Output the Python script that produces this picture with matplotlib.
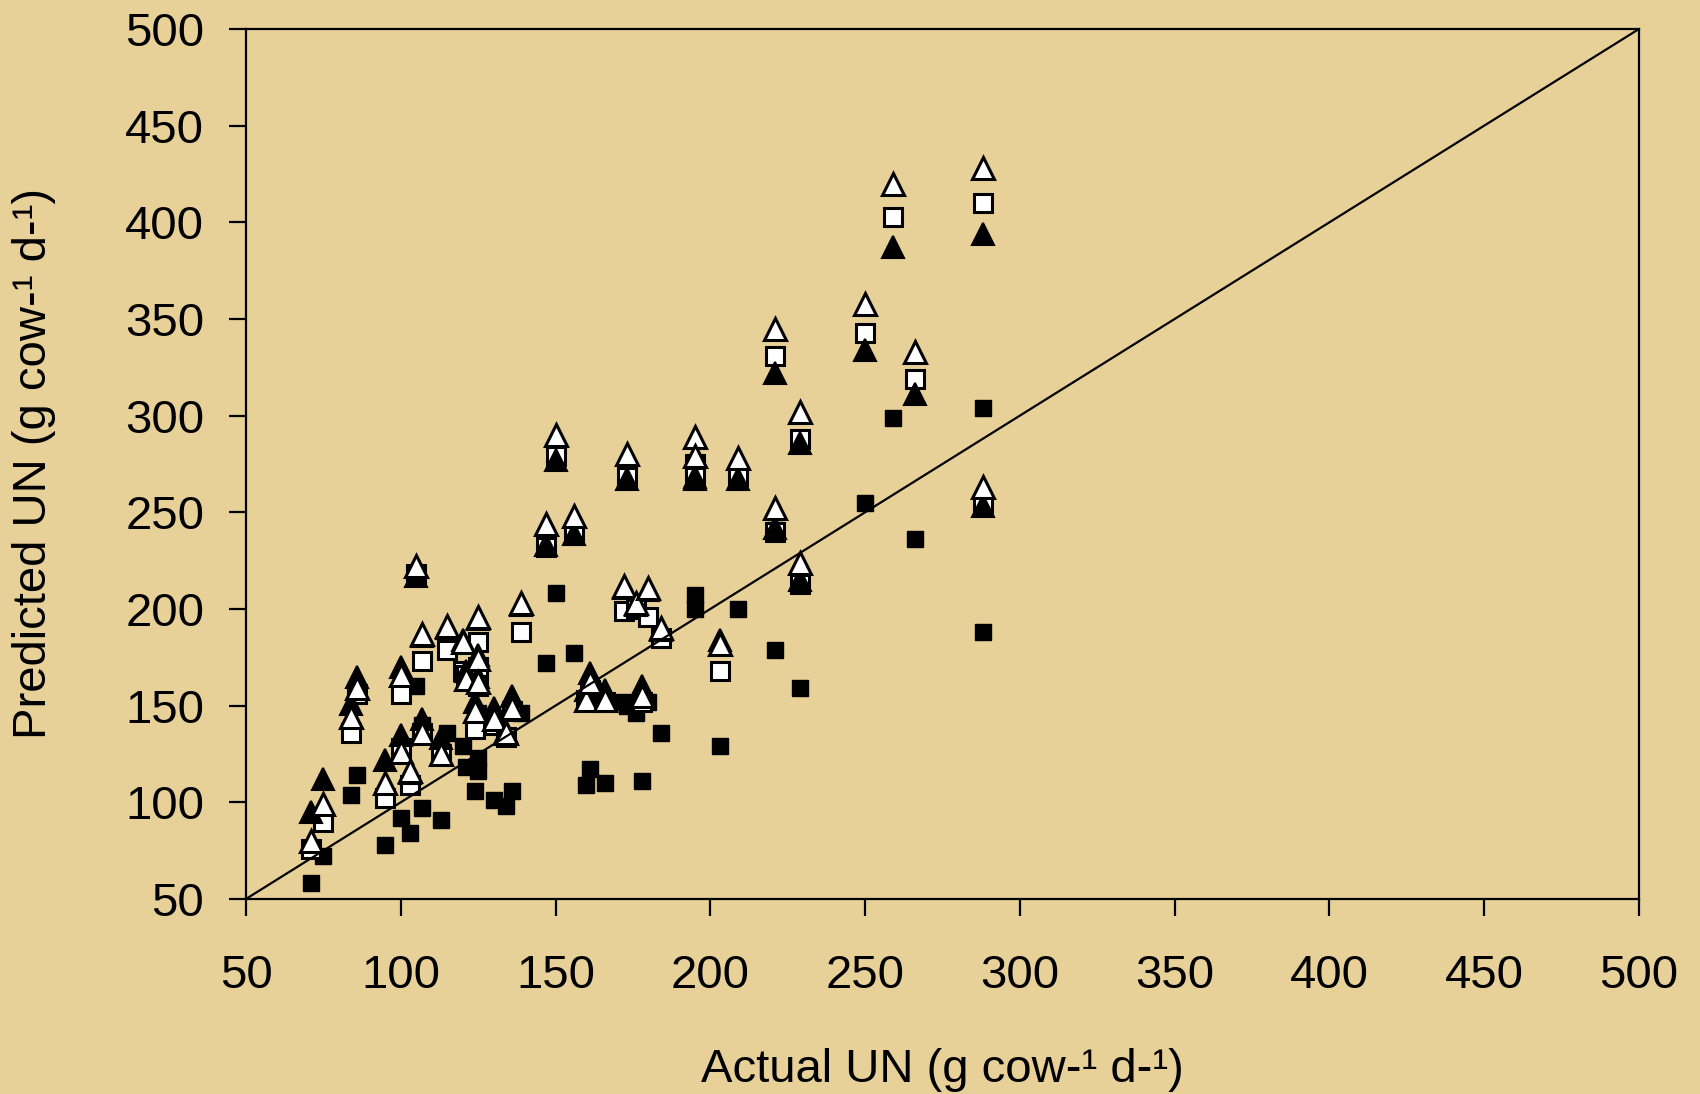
import matplotlib
matplotlib.use("Agg")
import matplotlib.pyplot as plt

# actual urinary N and four model predictions (g cow-1 d-1)
actual = [71, 75, 84, 86, 95, 100, 100, 103, 105, 107, 107, 113, 115, 120, 121, 125,
          125, 125, 124, 130, 134, 136, 139, 147, 150, 156, 160, 161, 166, 172, 173, 176,
          178, 180, 184, 195, 195, 203, 209, 221, 221, 229, 229, 250, 259, 266, 288, 288]
pred_fs = [58, 72, 104, 114, 78, 92, 127, 84, 160, 140, 97, 91, 136, 129, 118, 116,
           123, 146, 106, 101, 98, 106, 146, 172, 208, 177, 109, 117, 110, 152, 150, 146,
           111, 152, 136, 200, 207, 129, 200, 241, 179, 159, 286, 255, 299, 236, 304, 188]
pred_os = [76, 90, 136, 156, 102, 156, 128, 109, 218, 173, 136, 125, 179, 168, 166, 183,
           170, 160, 138, 140, 134, 147, 188, 232, 279, 238, 153, 158, 152, 199, 268, 200,
           152, 196, 185, 275, 268, 168, 269, 240, 331, 213, 288, 343, 403, 319, 410, 253]
pred_ft = [95, 112, 151, 165, 122, 170, 135, 115, 217, 186, 143, 133, 190, 184, 168, 195,
           176, 165, 152, 149, 137, 155, 202, 233, 277, 239, 158, 167, 158, 211, 267, 202,
           160, 210, 189, 268, 267, 184, 267, 242, 322, 215, 286, 334, 387, 311, 394, 253]
pred_ot = [80, 99, 144, 159, 110, 166, 126, 116, 222, 187, 136, 125, 191, 183, 164, 196,
           174, 162, 147, 143, 136, 149, 203, 244, 290, 248, 153, 162, 153, 212, 280, 203,
           155, 211, 190, 289, 279, 182, 278, 252, 345, 224, 302, 358, 420, 333, 428, 263]

ticks = [50, 100, 150, 200, 250, 300, 350, 400, 450, 500]

plt.rcParams['font.family'] = ['Liberation Sans', 'DejaVu Sans']

fig = plt.figure(figsize=(17, 10.94), dpi=100)
fig.patch.set_facecolor('#e8d199')
ax = fig.add_axes([0.1447, 0.1783, 0.8194, 0.7952])
ax.set_facecolor('none')

ax.plot(actual, pred_fs, 's', ms=11, color='black', mec='black', mew=1, zorder=2)
ax.plot(actual, pred_os, 's', ms=13.5, mfc='white', mec='black', mew=2.2, zorder=3)
ax.plot(actual, pred_ft, '^', ms=16, color='black', mec='black', mew=1.5, zorder=4)
ax.plot(actual, pred_ot, '^', ms=15.5, mfc='white', mec='black', mew=2.2, zorder=5)
ax.plot([50, 500], [50, 500], color='black', lw=1.6, zorder=6)

ax.set_xlim(50, 500)
ax.set_ylim(50, 500)
ax.set_xticks(ticks)
ax.set_yticks(ticks)
for s in ax.spines.values():
    s.set_linewidth(1.6)
ax.tick_params(direction='out', length=12, width=1.6, labelsize=34)
ax.tick_params(axis='x', pad=28)
ax.tick_params(axis='y', pad=18)

ax.set_xlabel('Actual UN (g cow-\u00b9 d-\u00b9)', fontsize=34, labelpad=36)
ax.set_ylabel('Predicted UN (g cow-\u00b9 d-\u00b9)', fontsize=34, labelpad=50)

fig.savefig('out.png', dpi=100, facecolor=fig.get_facecolor())
